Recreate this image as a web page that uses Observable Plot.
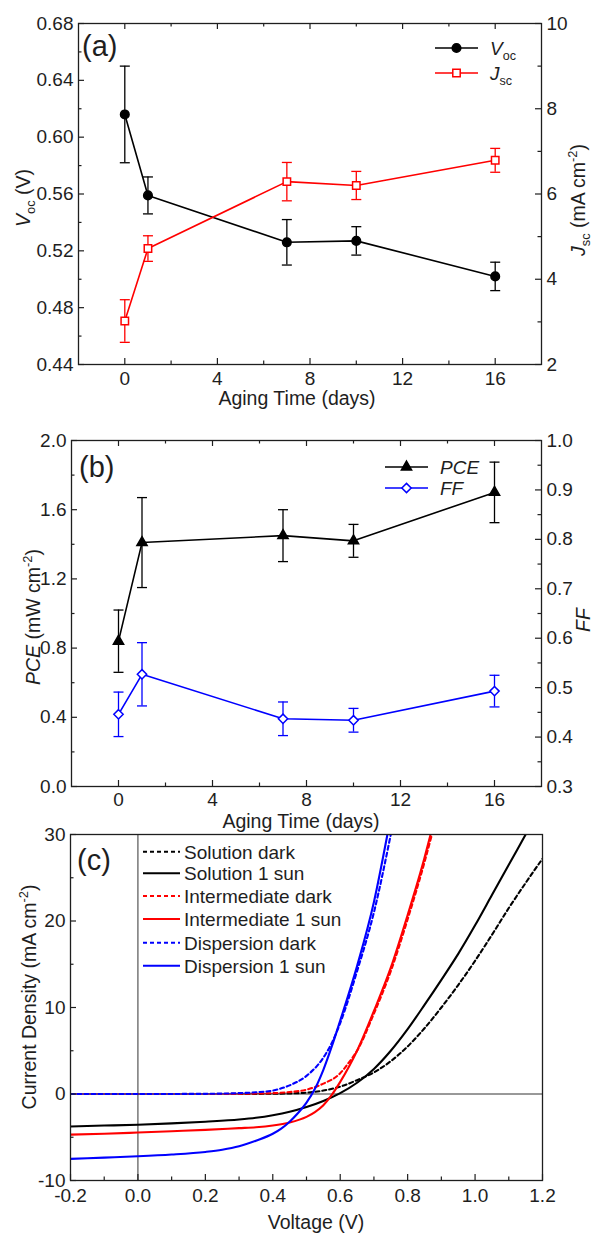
<!DOCTYPE html>
<html><head><meta charset="utf-8">
<script src="https://cdn.jsdelivr.net/npm/d3@7"></script>
<script src="https://cdn.jsdelivr.net/npm/@observablehq/plot@0.6"></script>
<style>
body{margin:0;background:#fff;font-family:"Liberation Sans",Arial,sans-serif}
#root{position:relative;width:594px;height:1234px;overflow:hidden}
</style></head><body><div id="root"></div>
<script>
// ---------- data ----------
const days = [0, 1, 7, 10, 16];
const vocMean = [0.616, 0.559, 0.526, 0.527, 0.502];
const vocErr  = [0.034, 0.013, 0.016, 0.010, 0.010];
const jscMean = [3.02, 4.72, 6.29, 6.20, 6.79];
const jscErr  = [0.50, 0.30, 0.45, 0.33, 0.28];
const pceMean = [0.84, 1.41, 1.45, 1.42, 1.70];
const pceErr  = [0.18, 0.26, 0.15, 0.095, 0.175];
const ffMean  = [0.446, 0.527, 0.437, 0.434, 0.493];
const ffErr   = [0.045, 0.064, 0.034, 0.024, 0.032];

const solutionDarkV = [-0.2, 0.0, 0.2, 0.3, 0.4, 0.45, 0.5, 0.55, 0.6, 0.65, 0.7, 0.75, 0.8, 0.85, 0.9, 0.95, 1.0, 1.05, 1.1, 1.15, 1.2];
const solutionDarkJ = [0, 0, 0, 0.01, 0.03, 0.07, 0.15, 0.4, 0.85, 1.6, 2.5, 3.8, 5.5, 7.6, 10.0, 12.6, 15.4, 18.4, 21.5, 24.4, 27.2];
const solutionSunV = [-0.2, -0.1, 0, 0.1, 0.2, 0.3, 0.35, 0.4, 0.45, 0.5, 0.55, 0.6, 0.65, 0.7, 0.75, 0.8, 0.85, 0.9, 0.95, 1.0, 1.05, 1.1, 1.15];
const solutionSunJ = [-3.75, -3.65, -3.55, -3.4, -3.2, -2.95, -2.75, -2.45, -2.05, -1.5, -0.8, 0.1, 1.3, 2.9, 5.0, 7.5, 10.3, 13.2, 16.2, 19.5, 23.0, 26.5, 30];
const intermDarkV = [-0.2, 0, 0.2, 0.3, 0.35, 0.4, 0.45, 0.5, 0.55, 0.6, 0.625, 0.65, 0.7, 0.75, 0.8, 0.85, 0.872];
const intermDarkJ = [0, 0, 0, 0.02, 0.05, 0.1, 0.22, 0.5, 1.2, 2.4, 3.6, 5.0, 9.3, 14.2, 20.2, 26.8, 30];
const intermSunV = [-0.2, -0.1, 0, 0.1, 0.2, 0.3, 0.35, 0.4, 0.45, 0.5, 0.525, 0.55, 0.575, 0.6, 0.625, 0.65, 0.7, 0.75, 0.8, 0.85, 0.868];
const intermSunJ = [-4.7, -4.6, -4.45, -4.3, -4.15, -3.95, -3.85, -3.65, -3.3, -2.65, -2.1, -1.3, -0.1, 1.4, 3.1, 5.0, 9.6, 14.6, 20.7, 27.3, 30];
const dispDarkV = [-0.2, 0, 0.2, 0.25, 0.3, 0.35, 0.4, 0.45, 0.5, 0.55, 0.575, 0.6, 0.65, 0.7, 0.75];
const dispDarkJ = [0, 0, 0.02, 0.05, 0.1, 0.2, 0.4, 1.0, 2.1, 4.2, 5.9, 8.2, 14.2, 21.0, 30];
const dispSunV = [-0.2, -0.1, 0, 0.1, 0.2, 0.25, 0.3, 0.35, 0.4, 0.425, 0.45, 0.475, 0.5, 0.525, 0.55, 0.575, 0.6, 0.65, 0.7, 0.74];
const dispSunJ = [-7.5, -7.35, -7.2, -7.0, -6.7, -6.45, -6.05, -5.4, -4.6, -4.0, -3.2, -2.2, -1.0, 0.6, 2.8, 5.5, 8.5, 14.8, 22.2, 30];

const jvNames = ["Solution dark", "Solution 1 sun", "Intermediate dark", "Intermediate 1 sun", "Dispersion dark", "Dispersion 1 sun"];
const jvColors = ["#000000", "#000000", "#ff0000", "#ff0000", "#0000ff", "#0000ff"];
const jvDashed = [true, false, true, false, true, false];
const jvV = [solutionDarkV, solutionSunV, intermDarkV, intermSunV, dispDarkV, dispSunV];
const jvJ = [solutionDarkJ, solutionSunJ, intermDarkJ, intermSunJ, dispDarkJ, dispSunJ];

// ticks
const dayTicks = [0, 4, 8, 12, 16];
const dayMinor = [2, 6, 10, 14];
const vocTicks = [0.44, 0.48, 0.52, 0.56, 0.60, 0.64, 0.68];
const vocMinor = [0.46, 0.50, 0.54, 0.58, 0.62, 0.66];
const jscTicks = [2, 4, 6, 8, 10];
const jscMinor = [3, 5, 7, 9];
const pceTicks = [0, 0.4, 0.8, 1.2, 1.6, 2.0];
const pceMinor = [0.2, 0.6, 1.0, 1.4, 1.8];
const ffTicks = [0.3, 0.4, 0.5, 0.6, 0.7, 0.8, 0.9, 1.0];
const ffMinor = [0.35, 0.45, 0.55, 0.65, 0.75, 0.85, 0.95];
const voltTicks = [-0.2, 0, 0.2, 0.4, 0.6, 0.8, 1.0, 1.2];
const voltMinor = [-0.1, 0.1, 0.3, 0.5, 0.7, 0.9, 1.1];
const jTicks = [-10, 0, 10, 20, 30];
const jMinor = [-5, 5, 15, 25];

// labels
const vocTitle = [{t: "V", i: 1}, {t: "oc", sub: 1}, {t: " (V)"}];
const jscTitle = [{t: "J", i: 1}, {t: "sc", sub: 1}, {t: " (mA cm"}, {t: "-2", sup: 1}, {t: ")"}];
const pceTitle = [{t: "PCE", i: 1}, {t: " (mW cm"}, {t: "-2", sup: 1}, {t: ")"}];
const ffTitle = [{t: "FF", i: 1}];
const curTitle = [{t: "Current Density (mA cm"}, {t: "-2", sup: 1}, {t: ")"}];
const timeTitle = [{t: "Aging Time (days)"}];
const voltTitle = [{t: "Voltage (V)"}];

// ---------- helpers ----------
const W = 594, INK = "#1e1e1e", FONT = '"Liberation Sans", Arial, sans-serif';
const root = document.getElementById("root");
const capSymbol = {draw(ctx, size) { const w = Math.sqrt(size / Math.PI); ctx.moveTo(-w, 0); ctx.lineTo(w, 0); }};
const f2 = d => d.toFixed(2), f1 = d => d.toFixed(1), f0 = d => String(d);

function layer(d, xDomain, yDomain, marksFn, showX) {
  const iw = W - d.ml - d.mr, ih = d.height - d.mt - d.mb;
  const svg = Plot.plot({
    width: W, height: d.height,
    marginLeft: d.ml, marginRight: d.mr, marginTop: d.mt, marginBottom: d.mb,
    x: {domain: xDomain, axis: showX ? undefined : null},
    y: {domain: yDomain},
    style: {background: "transparent", fontFamily: FONT, fontSize: "19px", color: INK, overflow: "visible"},
    marks: marksFn(iw, ih)
  });
  svg.style.position = "absolute"; svg.style.left = "0px"; svg.style.top = d.top + "px";
  root.appendChild(svg);
  return svg;
}
function ticksIn(side, values, len, iw, ih) {
  const o = {stroke: INK, strokeWidth: 1.2};
  if (side === "left") return Plot.tickY(values, {y: v => v, insetRight: iw - len, ...o});
  if (side === "right") return Plot.tickY(values, {y: v => v, insetLeft: iw - len, ...o});
  if (side === "bottom") return Plot.tickX(values, {x: v => v, insetTop: ih - len, ...o});
  return Plot.tickX(values, {x: v => v, insetBottom: ih - len, ...o});
}
function series(x, mean, err, color, symbol, fill, r) {
  const rows = x.map((d, i) => ({x: d, y: mean[i], lo: mean[i] - err[i], hi: mean[i] + err[i]}));
  return [
    Plot.ruleX(rows, {x: "x", y1: "lo", y2: "hi", stroke: color, strokeWidth: 1.3}),
    Plot.dot(rows, {x: "x", y: "lo", symbol: capSymbol, r: 5, stroke: color, fill: "none", strokeWidth: 1.3}),
    Plot.dot(rows, {x: "x", y: "hi", symbol: capSymbol, r: 5, stroke: color, fill: "none", strokeWidth: 1.3}),
    Plot.line(rows, {x: "x", y: "y", stroke: color, strokeWidth: 1.6}),
    Plot.dot(rows, {x: "x", y: "y", symbol, r, fill, stroke: color, strokeWidth: 1.5})
  ];
}

// ---------- panel (a) ----------
const A = {top: 0, height: 412, ml: 78, mr: 53, mt: 23, mb: 48};
layer(A, [-2, 18], [0.44, 0.68], (iw, ih) => [
  Plot.frame({stroke: INK, strokeWidth: 1.3}),
  ticksIn("left", vocTicks, 6, iw, ih), ticksIn("left", vocMinor, 3.5, iw, ih),
  ticksIn("bottom", dayTicks, 6, iw, ih), ticksIn("bottom", dayMinor, 3.5, iw, ih),
  ticksIn("top", dayTicks, 6, iw, ih), ticksIn("top", dayMinor, 3.5, iw, ih),
  Plot.axisY(vocTicks, {anchor: "left", tickSize: 0, tickPadding: 5, tickFormat: f2, label: null}),
  Plot.axisX(dayTicks, {anchor: "bottom", tickSize: 0, tickPadding: 7, tickFormat: f0, label: null}),
  ...series(days, vocMean, vocErr, "#000", "circle", "#000", 4.3)
], true);
layer(A, [-2, 18], [2, 10], (iw, ih) => [
  ticksIn("right", jscTicks, 6, iw, ih), ticksIn("right", jscMinor, 3.5, iw, ih),
  Plot.axisY(jscTicks, {anchor: "right", tickSize: 0, tickPadding: 5, tickFormat: f0, label: null}),
  ...series(days, jscMean, jscErr, "#ff0000", "square", "#fff", 4.2)
], false);

// ---------- panel (b) ----------
const B = {top: 412, height: 414, ml: 71, mr: 53, mt: 28, mb: 40};
layer(B, [-2, 18], [0, 2], (iw, ih) => [
  Plot.frame({stroke: INK, strokeWidth: 1.3}),
  ticksIn("left", pceTicks, 6, iw, ih), ticksIn("left", pceMinor, 3.5, iw, ih),
  ticksIn("bottom", dayTicks, 6, iw, ih), ticksIn("bottom", dayMinor, 3.5, iw, ih),
  ticksIn("top", dayTicks, 6, iw, ih), ticksIn("top", dayMinor, 3.5, iw, ih),
  Plot.axisY(pceTicks, {anchor: "left", tickSize: 0, tickPadding: 5, tickFormat: f1, label: null}),
  Plot.axisX(dayTicks, {anchor: "bottom", tickSize: 0, tickPadding: 6, tickFormat: f0, label: null}),
  ...series(days, pceMean, pceErr, "#000", "triangle", "#000", 3.8)
], true);
layer(B, [-2, 18], [0.3, 1.0], (iw, ih) => [
  ticksIn("right", ffTicks, 6, iw, ih), ticksIn("right", ffMinor, 3.5, iw, ih),
  Plot.axisY(ffTicks, {anchor: "right", tickSize: 0, tickPadding: 5, tickFormat: f1, label: null}),
  ...series(days, ffMean, ffErr, "#0000ff", "diamond2", "#fff", 4.2)
], false);

// ---------- panel (c) ----------
const Cc = {top: 826, height: 408, ml: 70, mr: 52, mt: 8, mb: 54};
layer(Cc, [-0.2, 1.2], [-10, 30], (iw, ih) => [
  Plot.ruleX([0], {stroke: "#333", strokeWidth: 1}),
  Plot.ruleY([0], {stroke: "#333", strokeWidth: 1}),
  ...jvNames.map((name, k) => Plot.line(jvV[k].map((v, i) => ({v, j: jvJ[k][i]})), {
    x: "v", y: "j", stroke: jvColors[k], strokeWidth: 2.1, curve: "monotone-x", clip: true,
    strokeDasharray: jvDashed[k] ? "4,3" : null
  })),
  Plot.frame({stroke: INK, strokeWidth: 1.3}),
  ticksIn("left", jTicks, 6, iw, ih), ticksIn("left", jMinor, 3.5, iw, ih),
  ticksIn("bottom", voltTicks, 6, iw, ih), ticksIn("bottom", voltMinor, 3.5, iw, ih),
  Plot.axisY(jTicks, {anchor: "left", tickSize: 0, tickPadding: 5, tickFormat: f0, label: null}),
  Plot.axisX(voltTicks, {anchor: "bottom", tickSize: 0, tickPadding: 8, tickFormat: f1, label: null})
], true);

// ---------- annotations (titles, panel letters, legends) ----------
const ann = d3.select(root).append("svg").attr("width", W).attr("height", 1234)
  .style("position", "absolute").style("left", 0).style("top", 0)
  .attr("font-family", FONT).attr("fill", INK);

function rich(x, y, parts, {size = 19.5, rotate = 0, anchor = "middle"} = {}) {
  const t = ann.append("text").attr("transform", `translate(${x},${y}) rotate(${rotate})`)
    .attr("text-anchor", anchor).attr("font-size", size).attr("fill", INK);
  let shift = 0;
  for (const p of parts) {
    const target = p.sub ? 0.28 * size : p.sup ? -0.42 * size : 0;
    const s = t.append("tspan").attr("dy", target - shift).text(p.t);
    shift = target;
    if (p.sub || p.sup) s.attr("font-size", size * 0.66);
    if (p.i) s.attr("font-style", "italic");
  }
  return t;
}
// axis titles
rich(30, 198, vocTitle, {rotate: -90});
rich(585, 200, jscTitle, {rotate: -90});
rich(297, 405, timeTitle);
rich(40, 617, pceTitle, {rotate: -90});
rich(590, 620, ffTitle, {rotate: -90});
rich(301, 828, timeTitle);
rich(36, 997, curTitle, {rotate: -90});
rich(316, 1229, voltTitle);
// panel letters
rich(82, 56, [{t: "(a)"}], {size: 29, anchor: "start"});
rich(79, 477, [{t: "(b)"}], {size: 29, anchor: "start"});
rich(77, 870, [{t: "(c)"}], {size: 29, anchor: "start"});

// legends with markers
function legendRow(x0, x1, y, color, symType, fill, size, label, tx) {
  ann.append("line").attr("x1", x0).attr("x2", x1).attr("y1", y).attr("y2", y).attr("stroke", color).attr("stroke-width", 1.6);
  ann.append("path").attr("d", d3.symbol().type(symType).size(size)())
    .attr("transform", `translate(${(x0 + x1) / 2},${y})`).attr("fill", fill).attr("stroke", color).attr("stroke-width", 1.5);
  rich(tx, y + 6.8, label, {size: 19, anchor: "start"});
}
legendRow(435, 478, 48, "#000", d3.symbolCircle, "#000", 58, [{t: "V", i: 1}, {t: "oc", sub: 1}], 490);
legendRow(435, 478, 73, "#ff0000", d3.symbolSquare, "#fff", 55, [{t: "J", i: 1}, {t: "sc", sub: 1}], 490);
legendRow(385, 428, 467, "#000", d3.symbolTriangle, "#000", 45, [{t: "PCE", i: 1}], 440);
legendRow(385, 428, 488, "#0000ff", d3.symbolDiamond2, "#fff", 55, [{t: "FF", i: 1}], 440);

const jvLegendY = [851.7, 873.3, 896, 919, 942.7, 965.7];
jvNames.forEach((name, k) => {
  ann.append("line").attr("x1", 143).attr("x2", 180).attr("y1", jvLegendY[k]).attr("y2", jvLegendY[k])
    .attr("stroke", jvColors[k]).attr("stroke-width", 2.1).attr("stroke-dasharray", jvDashed[k] ? "4,3" : null);
  rich(184, jvLegendY[k] + 6.8, [{t: name}], {size: 19, anchor: "start"});
});
</script></body></html>
